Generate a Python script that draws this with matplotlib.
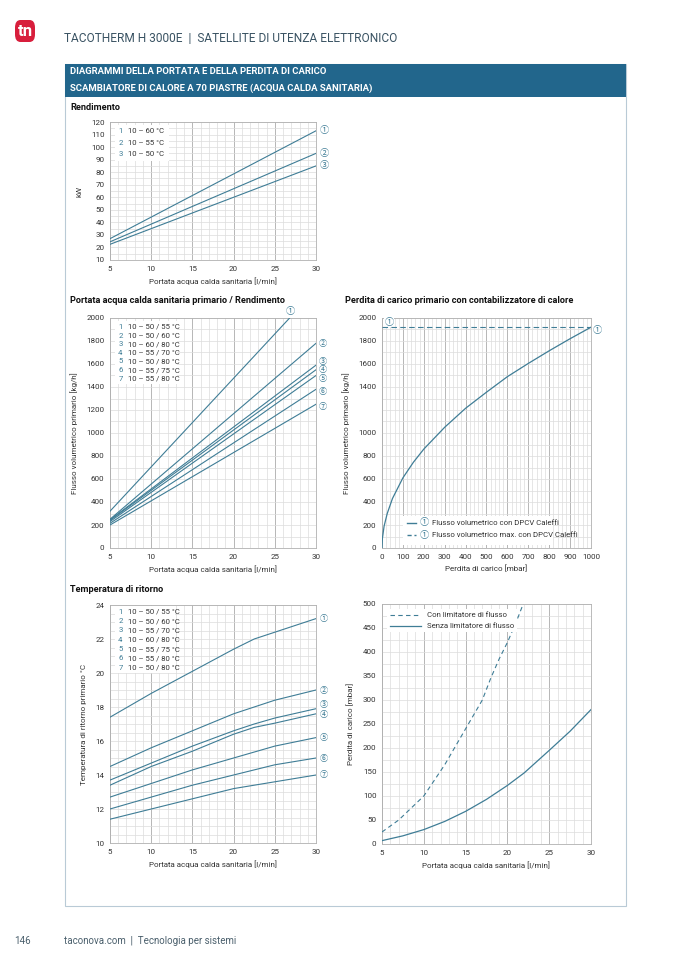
import numpy as np
import matplotlib.pyplot as plt
from matplotlib.patches import Rectangle, FancyBboxPatch
from matplotlib.lines import Line2D

plt.rcParams['font.family'] = ['Roboto', 'DejaVu Sans']

# Rendimento
x_rend = [5, 30]
rend_1 = [27, 113]
rend_2 = [24.5, 95]
rend_3 = [22.5, 85]
rend_labels = ['10 – 60 °C', '10 – 55 °C', '10 – 50 °C']

# Portata primario / Rendimento
x_port = [[5, 26.8], [5, 30], [5, 30], [5, 30], [5, 30], [5, 30], [5, 30]]
port_vals = [[320, 2000], [250, 1780], [245, 1590], [240, 1550],
             [230, 1500], [215, 1380], [200, 1250]]
port_labels = ['10 – 50 / 55 °C', '10 – 50 / 60 °C', '10 – 60 / 80 °C',
               '10 – 55 / 70 °C', '10 – 50 / 80 °C', '10 – 55 / 75 °C',
               '10 – 55 / 80 °C']

# Perdita di carico primario
dp_mbar = [0, 2, 10, 25, 50, 100, 150, 200, 300, 400, 500, 600, 700, 800, 900, 1000]
dp_flow = [0, 85, 190, 300, 430, 610, 745, 860, 1050, 1215, 1355, 1490, 1605, 1715, 1820, 1920]
dp_max = 1920

# Temperatura di ritorno
x_temp = [5, 10, 15, 20, 22.5, 25, 30]
temp_vals = [
    [17.4, 18.8, 20.1, 21.4, 22.0, 22.4, 23.2],
    [14.5, 15.6, 16.6, 17.6, 18.0, 18.4, 19.0],
    [13.7, 14.7, 15.7, 16.6, 17.0, 17.35, 17.9],
    [13.4, 14.5, 15.4, 16.4, 16.8, 17.05, 17.6],
    [12.7, 13.5, 14.3, 15.0, 15.35, 15.7, 16.2],
    [12.0, 12.7, 13.4, 14.0, 14.3, 14.6, 15.0],
    [11.4, 12.0, 12.6, 13.2, 13.4, 13.6, 14.0],
]
temp_labels = ['10 – 50 / 55 °C', '10 – 50 / 60 °C', '10 – 55 / 70 °C',
               '10 – 60 / 80 °C', '10 – 55 / 75 °C', '10 – 55 / 80 °C',
               '10 – 50 / 80 °C']

# Perdita di carico secondario
x_con = [5, 7, 10, 12.5, 15, 17, 18, 19, 20, 21, 22]
dp_con = [25, 50, 100, 165, 240, 300, 345, 385, 420, 460, 505]
x_senza = [5, 7.5, 10, 12.5, 15, 17.5, 20, 22, 25, 27.5, 30]
dp_senza = [7, 17, 30, 47, 68, 93, 122, 148, 195, 235, 280]

CIRC = ['①', '②', '③', '④', '⑤', '⑥', '⑦']
LINE = '#3f7d96'
TXT = '#333333'
GL = '#dcdcdc'
GD = '#ababab'

fig = plt.figure(figsize=(6.78, 9.59), dpi=100)
W, H = 678, 959


def fx(px):
    return px / W


def fy(py):
    return 1 - py / H


def make_ax(x0, x1, y0, y1):
    return fig.add_axes([fx(x0), fy(y1), fx(x1 - x0), (y1 - y0) / H])


def style(ax, xmaj, xmin, ymaj, ymin, xdark=True):
    ax.set_xticks(xmaj)
    ax.set_xticks(xmin, minor=True)
    ax.set_yticks(ymaj)
    ax.set_yticks(ymin, minor=True)
    ax.tick_params(which='both', length=0, labelsize=5.8, colors=TXT, pad=4)
    ax.xaxis.grid(True, which='minor', color=GL, lw=0.5)
    ax.xaxis.grid(True, which='major', color=GD if xdark else GL, lw=0.6)
    ax.yaxis.grid(True, which='both', color=GL, lw=0.5)
    ax.set_axisbelow(True)
    for s in ax.spines.values():
        s.set_color('#b0b0b0')
        s.set_linewidth(0.6)


def circ(ax, x, y, n, size=6.6, **kw):
    ax.text(x, y, CIRC[n], fontsize=size, color=LINE, ha='center', va='center',
            family=['Noto Sans CJK JP', 'DejaVu Sans'], clip_on=False, **kw)


def legend_box(ax, x0, y_top, dy, labels, w):
    ax.add_patch(Rectangle((x0 - 0.015, y_top - dy * (len(labels) - 0.4)), w, dy * len(labels) + 0.01,
                           transform=ax.transAxes, fc='white', ec='none', zorder=2))
    for i, lab in enumerate(labels):
        y = y_top - i * dy
        ax.text(x0, y, str(i + 1), transform=ax.transAxes, fontsize=5.6, color=LINE, va='center', zorder=3)
        ax.text(x0 + 0.045, y, lab, transform=ax.transAxes, fontsize=5.6, color=TXT, va='center', zorder=3)


# page decoration
fig.patches.append(FancyBboxPatch((fx(15), fy(42)), fx(20), 22 / H, boxstyle='round,pad=0,rounding_size=0.008',
                                  transform=fig.transFigure, fc='#d81e3c', ec='none'))
fig.text(fx(25), fy(31), 'tn', color='white', fontsize=12, fontweight='bold', ha='center', va='center')
fig.text(fx(64), fy(39), 'TACOTHERM H 3000E  |  SATELLITE DI UTENZA ELETTRONICO', fontsize=8.6,
         color='#3a5363', va='center')
fig.patches.append(Rectangle((fx(65), fy(906)), fx(561), (906 - 64) / H, transform=fig.transFigure,
                             fc='none', ec='#b9cad6', lw=0.8))
fig.patches.append(Rectangle((fx(65), fy(97)), fx(561), 33 / H, transform=fig.transFigure,
                             fc='#22668c', ec='none'))
fig.text(fx(70), fy(72), 'DIAGRAMMI DELLA PORTATA E DELLA PERDITA DI CARICO', fontsize=6.8,
         color='white', fontweight='bold', va='center')
fig.text(fx(70), fy(88), 'SCAMBIATORE DI CALORE A 70 PIASTRE (ACQUA CALDA SANITARIA)', fontsize=6.8,
         color='white', fontweight='bold', va='center')
fig.text(fx(70), fy(107), 'Rendimento', fontsize=6.6, fontweight='bold', color='#111111', va='center')
fig.text(fx(70), fy(300), 'Portata acqua calda sanitaria primario / Rendimento', fontsize=6.6,
         fontweight='bold', color='#111111', va='center')
fig.text(fx(345), fy(300), 'Perdita di carico primario con contabilizzatore di calore', fontsize=6.6,
         fontweight='bold', color='#111111', va='center')
fig.text(fx(70), fy(590), 'Temperatura di ritorno', fontsize=6.6, fontweight='bold', color='#111111',
         va='center')
fig.text(fx(14), fy(941), '146', fontsize=7, color='#4a5f6c', va='center')
fig.text(fx(64), fy(941), 'taconova.com  |  Tecnologia per sistemi', fontsize=7, color='#4a5f6c',
         va='center')

xlab = 'Portata acqua calda sanitaria [l/min]'

# --- Rendimento
ax = make_ax(110, 316, 122, 260)
style(ax, np.arange(5, 31, 5), np.arange(5, 31, 1), np.arange(10, 121, 10), np.arange(10, 121, 5))
for i, v in enumerate([rend_1, rend_2, rend_3]):
    ax.plot(x_rend, v, color=LINE, lw=0.8, zorder=4)
ax.set_xlim(5, 30)
ax.set_ylim(10, 120)
ax.set_xlabel(xlab, fontsize=5.8, color=TXT, labelpad=4)
ax.set_ylabel('kW', fontsize=5.8, color=TXT, labelpad=6)
legend_box(ax, 0.04, 0.935, 0.085, rend_labels, 0.26)
for i, yv in enumerate([113, 95, 85]):
    circ(ax, 31.0, yv, i)

# --- Portata primario
ax = make_ax(110, 316, 318, 548)
style(ax, np.arange(5, 31, 5), np.arange(5, 31, 1), np.arange(0, 2001, 200), np.arange(0, 2001, 100))
for xs, v in zip(x_port, port_vals):
    ax.plot(xs, v, color=LINE, lw=0.8, zorder=4)
ax.set_xlim(5, 30)
ax.set_ylim(0, 2000)
ax.set_xlabel(xlab, fontsize=5.8, color=TXT, labelpad=4)
ax.set_ylabel('Flusso volumetrico primario [kg/h]', fontsize=5.8, color=TXT, labelpad=6)
legend_box(ax, 0.04, 0.961, 0.0375, port_labels, 0.3)
circ(ax, 26.9, 2055, 0)
for i, yv in zip(range(1, 7), [1780, 1625, 1550, 1475, 1360, 1230]):
    circ(ax, 30.8, yv, i, size=5.9)

# --- Perdita di carico primario
ax = make_ax(382, 591, 318, 548)
style(ax, np.arange(0, 1001, 100), np.arange(0, 1001, 20),
      [0, 200, 400, 600, 800, 1000, 1400, 1600, 1800, 2000], np.arange(0, 2001, 100))
ax.plot(dp_mbar, dp_flow, color=LINE, lw=0.9, zorder=4)
ax.plot([0, 1000], [dp_max, dp_max], color=LINE, lw=0.8, ls=(0, (5, 3)), zorder=4)
ax.set_xlim(0, 1000)
ax.set_ylim(0, 2000)
ax.set_xlabel('Perdita di carico [mbar]', fontsize=5.8, color=TXT, labelpad=4)
ax.set_ylabel('Flusso volumetrico primario [kg/h]', fontsize=5.8, color=TXT, labelpad=6)
circ(ax, 35, 1965, 0, bbox=dict(fc='white', ec='none', pad=0.3))
circ(ax, 1030, 1890, 0)
ax.add_patch(Rectangle((0.1, 0.015), 0.72, 0.125, transform=ax.transAxes, fc='white', ec='none', zorder=2))
for yy, ls in [(0.11, '-'), (0.055, (0, (3, 2)))]:
    ax.add_line(Line2D([0.12, 0.165], [yy, yy], transform=ax.transAxes, color=LINE, lw=1.0, ls=ls, zorder=3))
    ax.text(0.2, yy, CIRC[0], transform=ax.transAxes, fontsize=6.6, color=LINE, ha='center', va='center',
            family=['Noto Sans CJK JP', 'DejaVu Sans'], zorder=3)
ax.text(0.24, 0.11, 'Flusso volumetrico con DPCV Caleffi', transform=ax.transAxes, fontsize=5.6,
        color=TXT, va='center', zorder=3)
ax.text(0.24, 0.055, 'Flusso volumetrico max. con DPCV Caleffi', transform=ax.transAxes, fontsize=5.6,
        color=TXT, va='center', zorder=3)

# --- Temperatura di ritorno
ax = make_ax(110, 316, 605, 843)
style(ax, np.arange(5, 31, 5), np.arange(5, 31, 1), np.arange(10, 25, 2), np.arange(10, 24.1, 0.5))
for v in temp_vals:
    ax.plot(x_temp, v, color=LINE, lw=0.8, zorder=4)
ax.set_xlim(5, 30)
ax.set_ylim(10, 24)
ax.set_xlabel(xlab, fontsize=5.8, color=TXT, labelpad=4)
ax.set_ylabel('Temperatura di ritorno primario °C', fontsize=5.8, color=TXT, labelpad=6)
legend_box(ax, 0.04, 0.971, 0.039, temp_labels, 0.29)
for i, yv in enumerate([23.2, 19.0, 18.15, 17.55, 16.2, 15.0, 14.0]):
    circ(ax, 31.0, yv, i, size=5.9)

# --- Perdita di carico secondario
ax = make_ax(382, 591, 604, 844)
style(ax, np.arange(5, 31, 5), np.arange(5, 31, 1), np.arange(0, 501, 50), np.arange(0, 501, 25))
ax.plot(x_con, dp_con, color=LINE, lw=0.8, ls=(0, (4, 3)), label='Con limitatore di flusso', zorder=4)
ax.plot(x_senza, dp_senza, color=LINE, lw=0.9, label='Senza limitatore di flusso', zorder=4)
ax.set_xlim(5, 30)
ax.set_ylim(0, 500)
ax.set_xlabel(xlab, fontsize=5.8, color=TXT, labelpad=4)
ax.set_ylabel('Perdita di carico [mbar]', fontsize=5.8, color=TXT, labelpad=6)
leg = ax.legend(loc='upper left', fontsize=5.6, frameon=True, handlelength=4, borderaxespad=0.6,
                labelspacing=0.6, fancybox=False)
leg.get_frame().set_edgecolor('none')
leg.get_frame().set_facecolor('white')
leg.get_frame().set_alpha(1)
for t in leg.get_texts():
    t.set_color(TXT)

fig.savefig('out.png', dpi=100)
